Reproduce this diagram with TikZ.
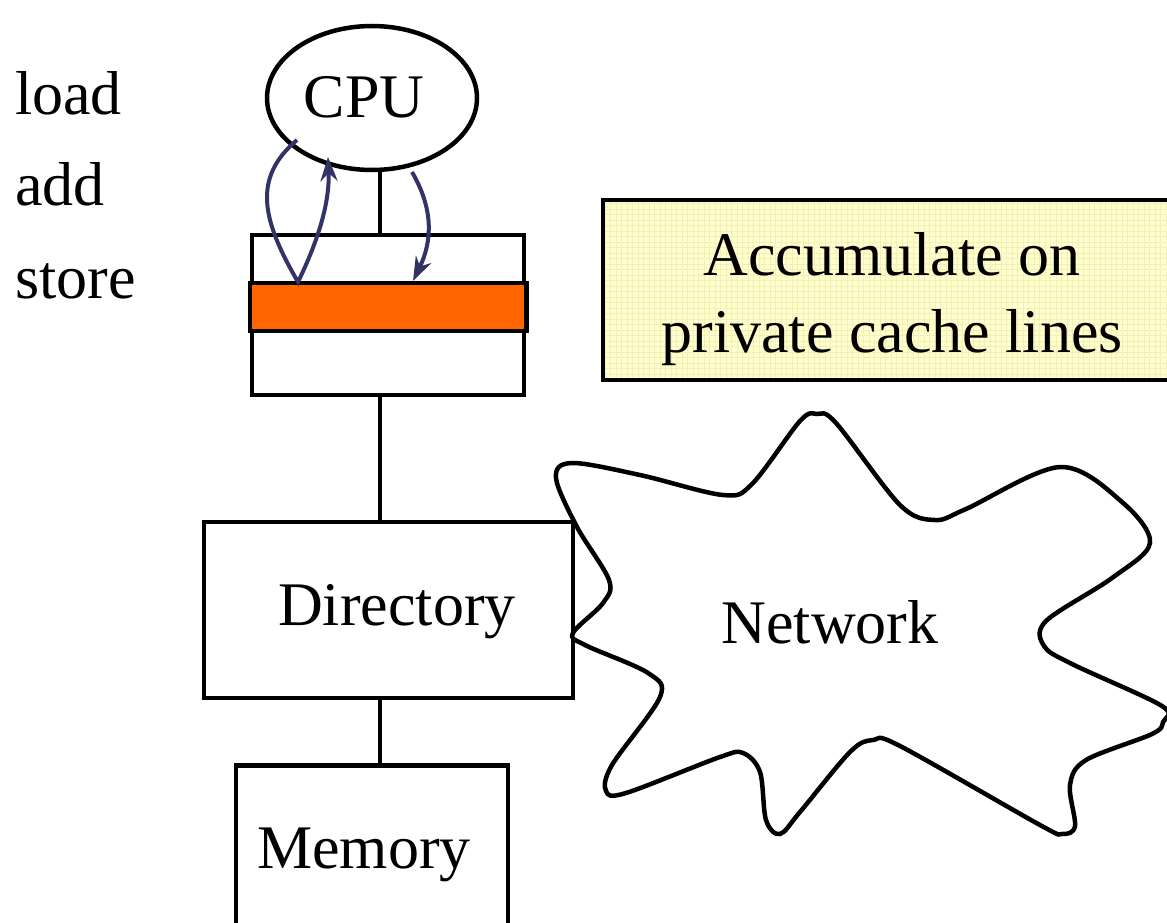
\documentclass[tikz,border=0pt]{standalone}
\usepackage{fontspec}
\setmainfont{Liberation Serif}
\newfontfamily\labelface{Liberation Serif}
\usetikzlibrary{shapes.geometric,arrows.meta}
\definecolor{navy}{RGB}{51,51,102}
\definecolor{lineorange}{RGB}{255,102,0}
\definecolor{notefill}{RGB}{255,255,204}
\definecolor{notegrid}{RGB}{243,239,186}
\begin{document}
\begin{tikzpicture}[x=1pt,y=-1pt,
  wire/.style={line width=4.5pt},
  unit/.style={draw,line width=4.5pt,rectangle,inner sep=0pt},
  lbl/.style={font=\labelface\fontsize{62}{74}\selectfont,inner sep=0pt,anchor=base},
  flow/.style={draw=navy,line width=4pt,-{Stealth[length=24pt,width=17pt]}},
]
\useasboundingbox (0,0) rectangle (1167,923);
\clip (0,0) rectangle (1167,923);

% instruction list
\node[lbl,anchor=base west] (iload)  at (15,115) {load};
\node[lbl,anchor=base west] (iadd)   at (15,205) {add};
\node[lbl,anchor=base west] (istore) at (15,298) {store};

% processor, cache, directory, memory
\node[draw,ellipse,line width=4.5pt,minimum width=210pt,minimum height=144pt,inner sep=0pt] (cpu) at (372,98) {};
\node[lbl] (cputxt) at (364,118) {CPU};

\node[unit,minimum width=272pt,minimum height=160pt] (cache) at (388,315) {};
\draw[line width=4.5pt,fill=lineorange] (cache.west |- 0,283) rectangle (cache.east |- 0,331);

\node[unit,minimum width=369pt,minimum height=176pt] (dir) at (388.5,610) {};
\node[lbl] (dirtxt) at (397,625) {Directory};

\node[unit,minimum width=272pt,minimum height=180pt,anchor=north] (mem) at (372,763) {};
\node[lbl] (memtxt) at (364,868) {Memory};

% bus segments
\coordinate (bus) at (380,0);
\draw[wire] (bus |- cpu.south) -- (bus |- cache.north);
\draw[wire] (bus |- cache.south) -- (bus |- dir.north);
\draw[wire] (bus |- dir.south) -- (bus |- mem.north);

% read-modify-write traffic between CPU and the cache line
\coordinate (rdout) at (297,140);
\coordinate (rdline) at (298,282);
\coordinate (rdin) at (328,157);
\coordinate (wrout) at (412,172);
\coordinate (wrline) at (413,281);
\draw[flow] (rdout) .. controls (252,178) and (262,220) .. (rdline)
            .. controls (316,245) and (330,205) .. (rdin);
\draw[flow] (wrout) .. controls (433,208) and (433,240) .. (wrline);

% note box
\begin{scope}
  \clip (603,200) rectangle (1190,380);
  \fill[notefill] (603,200) rectangle (1190,380);
  \draw[notegrid,line width=0.6pt,step=5.5pt] (603,200) grid (1190,380);
\end{scope}
\draw[line width=4.5pt] (1190,200) -- (603,200) -- (603,380) -- (1190,380);
\node[lbl] (note1) at (892,275) {Accumulate on};
\node[lbl] (note2) at (892,352) {private cache lines};

% interconnect cloud
\draw[line width=4.5pt,fill=white] plot[smooth cycle,tension=0.55] coordinates {
  (573,633) (603,603) (609,580) (577,527) (556,478) (572,463)
  (640,475) (723,495) (752,484) (800,421) (817,414) (836,423)
  (900,505) (935,520) (966,509) (1060,467) (1122,502) (1150,543)
  (1112,578) (1046,621) (1044,646) (1072,664) (1162,706) (1163,722)
  (1152,734) (1086,760) (1070,785) (1075,826) (1062,834) (1040,825)
  (900,746) (873,740) (850,752) (800,812) (780,834) (766,820)
  (760,772) (743,753) (720,757) (626,793) (606,791) (612,765)
  (660,697) (648,673) (585,645)
};
\node[lbl] (net) at (830,643) {Network};
\end{tikzpicture}
\end{document}
